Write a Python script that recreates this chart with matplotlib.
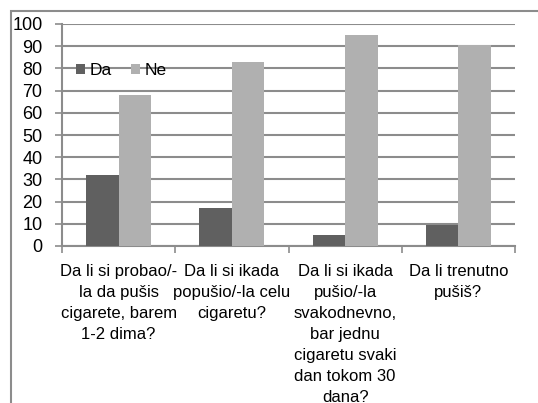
import matplotlib
matplotlib.use('Agg')
import matplotlib.pyplot as plt
import numpy as np
from matplotlib.patches import Rectangle

plt.rcParams['font.family'] = ['Liberation Sans', 'DejaVu Sans']

categories = ["Da li si probao/-\nla da pušis\ncigarete, barem\n1-2 dima?",
              "Da li si ikada\npopušio/-la celu\ncigaretu?",
              "Da li si ikada\npušio/-la\nsvakodnevno,\nbar jednu\ncigaretu svaki\ndan tokom 30\ndana?",
              "Da li trenutno\npušiš?"]
da = [32, 17, 5, 9.5]
ne = [68, 83, 95, 90.5]
yticks = list(range(0, 101, 10))

W, H = 538, 403
fig = plt.figure(figsize=(W / 100, H / 100), dpi=100)
ax = fig.add_axes([62 / W, 1 - 246 / H, (515 - 62) / W, (246 - 24) / H])

grey = '#8c8c8c'
x = np.arange(len(categories))
bw = 0.287
ax.bar(x - bw / 2, da, bw, color='#606060', label='Da', zorder=3)
ax.bar(x + bw / 2, ne, bw, color='#b0b0b0', label='Ne', zorder=3)

ax.set_xlim(-0.5, len(categories) - 0.5)
ax.set_ylim(0, 100)
ax.set_yticks(yticks)
ax.yaxis.grid(True, color=grey, linewidth=1.5, zorder=0)
ax.set_axisbelow(True)

ax.set_xticks(x)
ax.set_xticklabels(categories, fontsize=12, linespacing=1.5, va='top')
ax.set_xticks(np.arange(-0.5, len(categories)), minor=True)
ax.tick_params(axis='x', which='major', length=0, pad=13)
ax.tick_params(axis='x', which='minor', length=5, width=1.2, color=grey, direction='out')
ax.tick_params(axis='y', length=5, width=1.2, color=grey, labelsize=13, pad=9)

for s in ['top', 'right']:
    ax.spines[s].set_visible(False)
for s in ['left', 'bottom']:
    ax.spines[s].set_color(grey)
    ax.spines[s].set_linewidth(1.5)

ax.legend(loc='center left', bbox_to_anchor=(0.03, 0.79), ncol=2, frameon=False,
          fontsize=12.5, handlelength=0.55, handleheight=0.55, handletextpad=0.25,
          columnspacing=1.1, borderaxespad=0, borderpad=0)

# outer chart border (left and top edges visible)
fig.add_artist(Rectangle((11 / W, -0.1), 2, (H - 11) / H + 0.1,
                         transform=fig.transFigure, fill=False,
                         edgecolor='#8c8c8c', linewidth=1.5))

fig.savefig('out.png', dpi=100)
